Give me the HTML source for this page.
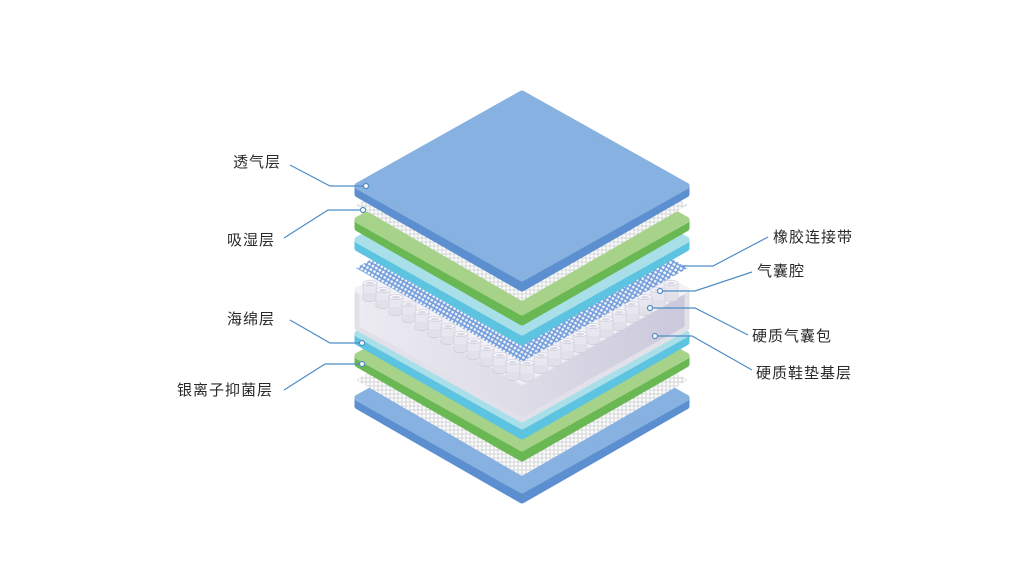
<!DOCTYPE html>
<html><head><meta charset="utf-8"><style>
html,body{margin:0;padding:0;background:#fff;width:1024px;height:581px;overflow:hidden}
svg{display:block}
text{font-family:"Liberation Sans","Noto Sans CJK SC",sans-serif;font-size:15px;fill:#2a2a2a;letter-spacing:1px}
</style></head><body>
<svg width="1024" height="581" viewBox="0 0 1024 581" xmlns="http://www.w3.org/2000/svg">
<defs>
<pattern id="mg" width="4" height="4" patternUnits="userSpaceOnUse">
<rect width="4" height="4" fill="#fdfdfd"/>
<path d="M0 2H4M2 0V4" stroke="#d3d5d8" stroke-width="1.1"/>
</pattern>
<pattern id="mb" width="4" height="4" patternUnits="userSpaceOnUse" patternTransform="rotate(30)">
<path d="M0 2H4M2 0V4" stroke="#5a8ed8" stroke-width="1.4"/>
</pattern>
<linearGradient id="ws" x1="0" x2="1" y1="0" y2="0">
<stop offset="0" stop-color="#ecebf2"/><stop offset="0.5" stop-color="#dddce7"/><stop offset="1" stop-color="#cac8db"/>
</linearGradient>
<g id="c">
<rect x="0" y="0" width="14" height="16" fill="#e8e7ef" stroke="#cac9d8" stroke-width="0.6"/>
<ellipse cx="7" cy="16" rx="7" ry="2.6" fill="#e2e1ea" stroke="#cac9d8" stroke-width="0.6"/>
<rect x="0.3" y="10" width="13.4" height="6" fill="#e2e1ea"/>
<ellipse cx="7" cy="0" rx="7" ry="2.6" fill="#f7f7fa" stroke="#cac9d8" stroke-width="0.6"/>
<ellipse cx="7" cy="0.3" rx="4" ry="1.4" fill="#d9d8e3"/>
</g>
</defs>
<g stroke-linejoin="round">
<polygon points="358,398 522,492 686,398 686,406 522,500 358,406" fill="#5b8fd0" stroke="#5b8fd0" stroke-width="7"/>
<polygon points="358,398 522,306 686,398 522,490" fill="#86b1e0" stroke="#86b1e0" stroke-width="7"/>
<polygon points="356,380 522,286 688,380 522,476" fill="url(#mg)"/>
<polygon points="358,356 522,450 686,356 686,364 522,458 358,364" fill="#6ab853" stroke="#6ab853" stroke-width="7"/>
<polygon points="358,356 522,264 686,356 522,448" fill="#a6d389" stroke="#a6d389" stroke-width="7"/>
<polygon points="358,334 522,428 686,334 686,342 522,436 358,342" fill="#5cc3e0" stroke="#5cc3e0" stroke-width="7"/>
<polygon points="358,334 522,242 686,334 522,426" fill="#a8dfe9" stroke="#a8dfe9" stroke-width="7"/>
<polygon points="357,290 522,384 687,290 687,328 522,420 357,328" fill="url(#ws)" stroke="#e2e1ea" stroke-width="5"/>
<polygon points="357,290 522,198 687,290 522,382" fill="#f2f2f6" stroke="#f2f2f6" stroke-width="5"/>
</g>
<use href="#c" x="363" y="283"/><use href="#c" x="376" y="290"/><use href="#c" x="389" y="297"/>
<use href="#c" x="402" y="304"/><use href="#c" x="415" y="312"/><use href="#c" x="428" y="319"/>
<use href="#c" x="441" y="326"/><use href="#c" x="454" y="334"/><use href="#c" x="467" y="341"/>
<use href="#c" x="480" y="348"/><use href="#c" x="493" y="355"/><use href="#c" x="506" y="362"/>
<use href="#c" x="664" y="283"/><use href="#c" x="651" y="290"/><use href="#c" x="638" y="297"/>
<use href="#c" x="625" y="304"/><use href="#c" x="612" y="312"/><use href="#c" x="599" y="319"/>
<use href="#c" x="586" y="326"/><use href="#c" x="573" y="334"/><use href="#c" x="560" y="341"/>
<use href="#c" x="547" y="348"/><use href="#c" x="534" y="355"/><use href="#c" x="520" y="363"/>
<g stroke-linejoin="round">
<polygon points="356,268 522,174 688,268 522,362" fill="url(#mb)" opacity="0.9"/>
<polygon points="358,240 522,334 686,240 686,248 522,342 358,248" fill="#5cc3e0" stroke="#5cc3e0" stroke-width="7"/>
<polygon points="358,240 522,148 686,240 522,332" fill="#a8dfe9" stroke="#a8dfe9" stroke-width="7"/>
<polygon points="358,220 522,314 686,220 686,228 522,322 358,228" fill="#6ab853" stroke="#6ab853" stroke-width="7"/>
<polygon points="358,220 522,128 686,220 522,312" fill="#a6d389" stroke="#a6d389" stroke-width="7"/>
<polygon points="356,205 522,111 688,205 522,301" fill="url(#mg)"/>
<polygon points="358,186 522,280 686,186 686,194 522,288 358,194" fill="#5b8fd0" stroke="#5b8fd0" stroke-width="7"/>
<polygon points="358,186 522,94 686,186 522,278" fill="#86b1e0" stroke="#86b1e0" stroke-width="7"/>
</g>
<g fill="none" stroke="#4f8dc6" stroke-width="1.2">
<polyline points="290,165 330,186 364,186"/>
<polyline points="284,238 328,210 361,210"/>
<polyline points="290,320 330,343 360,343"/>
<polyline points="284,390 325,364 360,364"/>
<polyline points="768,237 713,266 682,266"/>
<polyline points="752,272 695,291 662,291"/>
<polyline points="748,335 695,308 653,308"/>
<polyline points="752,370 692,336 658,336"/>
</g>
<g fill="#fff" stroke="#4f8dc6" stroke-width="1.2">
<circle cx="366" cy="186" r="2.5"/><circle cx="363" cy="210" r="2.5"/>
<circle cx="362" cy="343" r="2.5"/><circle cx="362" cy="364" r="2.5"/>
<circle cx="660" cy="291" r="2.5"/><circle cx="650" cy="308" r="2.5"/><circle cx="655" cy="336" r="2.5"/>
</g>
<text x="233" y="167">透气层</text>
<text x="227" y="245">吸湿层</text>
<text x="227" y="324">海绵层</text>
<text x="177" y="395">银离子抑菌层</text>
<text x="773" y="242">橡胶连接带</text>
<text x="757" y="276">气囊腔</text>
<text x="752" y="341">硬质气囊包</text>
<text x="756" y="378">硬质鞋垫基层</text>
</svg>
</body></html>
